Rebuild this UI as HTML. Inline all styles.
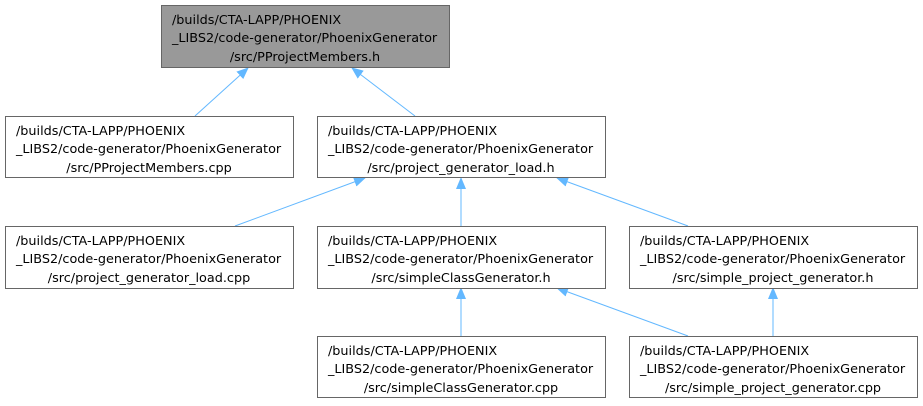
<!DOCTYPE html>
<html><head><meta charset="utf-8"><style>
html,body{margin:0;padding:0;background:#fff;}
svg text{font-family:"DejaVu Sans","Liberation Sans",sans-serif;font-size:12.8px;fill:#000;}
</style></head><body>
<svg width="923" height="401" viewBox="0 0 923 401" xmlns="http://www.w3.org/2000/svg">
<defs>
<marker id="a" markerWidth="12" markerHeight="10" refX="11" refY="5" orient="auto" markerUnits="userSpaceOnUse">
<path d="M0,0 L12,5 L0,10 Z" fill="#63b8ff"/>
</marker>
</defs>
<g stroke="#63b8ff" stroke-width="1" fill="none" marker-end="url(#a)">
<line x1="195" y1="116" x2="248" y2="68"/>
<line x1="415" y1="116" x2="352" y2="68"/>
<line x1="235" y1="226" x2="365" y2="178"/>
<line x1="461" y1="226" x2="461" y2="178"/>
<line x1="688" y1="226" x2="557" y2="178"/>
<line x1="461" y1="336" x2="461" y2="288"/>
<line x1="688" y1="336" x2="557" y2="288"/>
<line x1="773" y1="336" x2="773" y2="288"/>
</g>
<g stroke="#666" stroke-width="1">
<rect x="161.5" y="5.5" width="288" height="62" fill="#999"/>
<rect x="5.5" y="116.5" width="288" height="61" fill="#fff"/>
<rect x="317.5" y="116.5" width="288" height="61" fill="#fff"/>
<rect x="5.5" y="226.5" width="288" height="62" fill="#fff"/>
<rect x="317.5" y="226.5" width="288" height="62" fill="#fff"/>
<rect x="629.5" y="226.5" width="288" height="62" fill="#fff"/>
<rect x="317.5" y="336.5" width="288" height="61" fill="#fff"/>
<rect x="629.5" y="336.5" width="288" height="61" fill="#fff"/>
</g>
<g>
<text x="172" y="24">/builds/CTA-LAPP/PHOENIX</text>
<text x="172" y="42">_LIBS2/code-generator/PhoenixGenerator</text>
<text x="305" y="61" text-anchor="middle">/src/PProjectMembers.h</text>

<text x="16" y="135">/builds/CTA-LAPP/PHOENIX</text>
<text x="16" y="153">_LIBS2/code-generator/PhoenixGenerator</text>
<text x="149" y="172" text-anchor="middle">/src/PProjectMembers.cpp</text>

<text x="328" y="135">/builds/CTA-LAPP/PHOENIX</text>
<text x="328" y="153">_LIBS2/code-generator/PhoenixGenerator</text>
<text x="461" y="172" text-anchor="middle">/src/project_generator_load.h</text>

<text x="16" y="245">/builds/CTA-LAPP/PHOENIX</text>
<text x="16" y="263">_LIBS2/code-generator/PhoenixGenerator</text>
<text x="149" y="282" text-anchor="middle">/src/project_generator_load.cpp</text>

<text x="328" y="245">/builds/CTA-LAPP/PHOENIX</text>
<text x="328" y="263">_LIBS2/code-generator/PhoenixGenerator</text>
<text x="461" y="282" text-anchor="middle">/src/simpleClassGenerator.h</text>

<text x="640" y="245">/builds/CTA-LAPP/PHOENIX</text>
<text x="640" y="263">_LIBS2/code-generator/PhoenixGenerator</text>
<text x="773" y="282" text-anchor="middle">/src/simple_project_generator.h</text>

<text x="328" y="355">/builds/CTA-LAPP/PHOENIX</text>
<text x="328" y="373">_LIBS2/code-generator/PhoenixGenerator</text>
<text x="461" y="392" text-anchor="middle">/src/simpleClassGenerator.cpp</text>

<text x="640" y="355">/builds/CTA-LAPP/PHOENIX</text>
<text x="640" y="373">_LIBS2/code-generator/PhoenixGenerator</text>
<text x="773" y="392" text-anchor="middle">/src/simple_project_generator.cpp</text>
</g>
</svg>
</body></html>
